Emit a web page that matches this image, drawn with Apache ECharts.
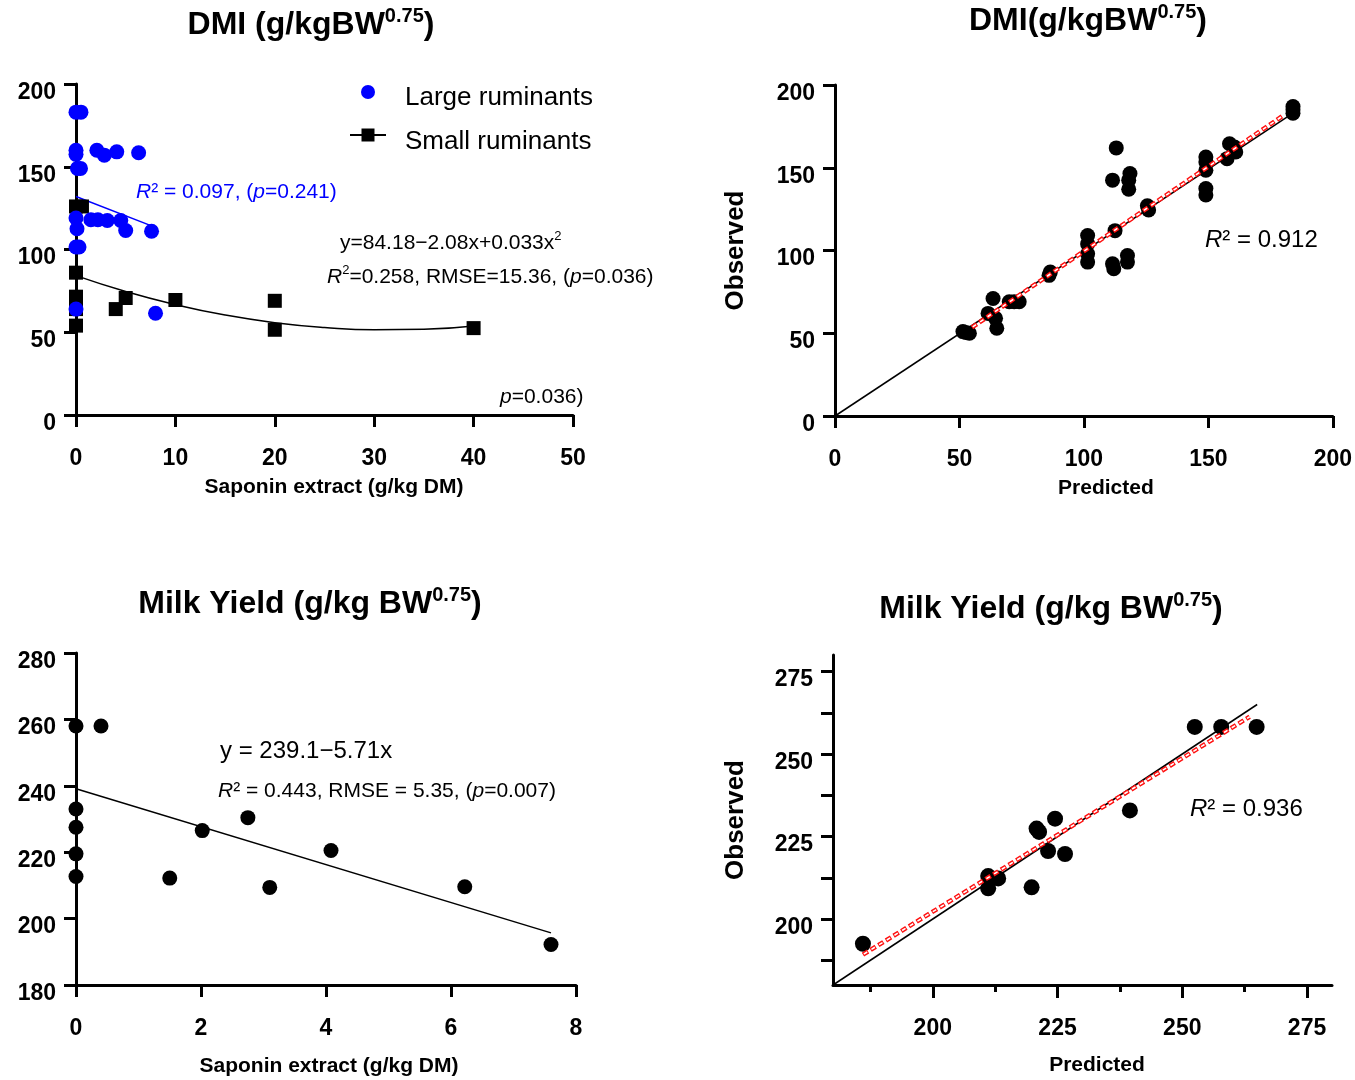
<!DOCTYPE html>
<html><head><meta charset="utf-8">
<script src="https://cdn.jsdelivr.net/npm/echarts@6/dist/echarts.min.js"></script>
<style>html,body{margin:0;padding:0;background:#fff}#c{width:1355px;height:1080px}</style>
</head><body><div id="c"></div>
<script>
const NARROW = "'Liberation Sans Narrow','Liberation Sans',Arial,sans-serif";
const SANS = "'Liberation Sans',Arial,sans-serif";

// ---------- Panel A: DMI vs saponin ----------
const largeRuminants = [[0,183],[0.5,183],[0,160],[0,157.5],[2.1,160],[2.85,157],[4.1,159],[6.3,158.5],
  [0.15,149],[0.45,149],[0,119],[1.5,118],[2.2,118],[3.15,117.5],[4.5,117.5],[5.0,111.5],[7.6,111],
  [0.1,112.5],[0.3,101.5],[0,101.5],[0,64],[8.0,61.5]];
const smallRuminants = [[0,126],[0.6,126],[0,86],[0,71.5],[0,64],[0,54],[4,64],[5,70.7],[10,69.5],
  [20,69],[20,51.5],[40,52.5]];
const largeFit = [[0,132],[7.6,114.3]];
const smallFit = [[0,84.2],[5,74.6],[10,66.7],[15,60.4],[20,55.8],[25,52.9],[30,51.5],[35,51.8],[40,53.8]];

// ---------- Panel B: DMI observed vs predicted ----------
const dmiObsPred = [[51.4,51],[52.5,50.5],[54,50],[63.5,71],[61.5,62],[64.5,59],[65,53],[70,69],[72,69],[74,69],
  [86,85],[86.5,87],[101.5,109],[101.5,104],[101.5,98],[101.5,93],[111.5,92],[112,89],[112.5,112],
  [117.5,97],[117.5,93],[111.5,142.5],[113,162],[118.5,146.5],[118,142.5],[118,137],[125.5,127],[126,124.5],
  [149,156.5],[149,153.5],[149,148.5],[149,137.5],[149,133.5],[157.5,155.5],[158.5,164.5],[160.5,162.5],
  [161,159.5],[184,187],[184,185],[184,183]];
const dmiIdentity = [[0,0],[184,183]];
const dmiRegression = [[55,53.5],[180.5,182]];

// ---------- Panel C: Milk yield vs saponin ----------
const milkSaponin = [[0,258],[0.4,258],[0,233],[0,227.5],[0,219.5],[0,212.7],[1.5,212.2],[2.02,226.5],
  [2.75,230.4],[3.1,209.4],[4.08,220.5],[6.22,209.6],[7.6,192.2]];
const milkFit = [[0,239.1],[7.6,195.7]];

// ---------- Panel D: Milk yield observed vs predicted ----------
const milkObsPred = [[186,192.5],[211.1,213],[213.1,212.3],[211.1,209.3],[219.8,209.6],[220.8,227.4],
  [221.3,226.4],[224.5,230.4],[223.1,220.6],[226.5,219.7],[239.5,232.9],[252.5,258.2],[257.8,258.2],[264.9,258.2]];
const milkIdentity = [[180,180],[265,265]];
const milkRegression = [[186,189.2],[263.5,261.3]];

// tick values
const ticksD_major = [200,225,250,275], ticksD_minor = [187.5,212.5,237.5,262.5];
const ticksD_y = [187.5,200,212.5,225,237.5,250,262.5,275];

const chart = echarts.init(document.getElementById('c'), null, {renderer:'canvas'});

const TICKFONT = 23;
function lblX(extra){ return Object.assign({color:'#000', fontFamily:NARROW, fontWeight:'bold', fontSize:TICKFONT, margin:32}, extra||{}); }
function lblY(extra){ return Object.assign({color:'#000', fontFamily:NARROW, fontWeight:'bold', fontSize:TICKFONT, margin:20,
  verticalAlign:'top', lineHeight:17}, extra||{}); }
const nameStyle = (pad) => ({color:'#000', fontFamily:NARROW, fontWeight:'bold', fontSize:21, padding:[0,0,0,pad]});
const obsStyle = {color:'#000', fontFamily:SANS, fontWeight:'bold', fontSize:26};

function base(extra){
  return Object.assign({
    type:'value', splitLine:{show:false},
    axisLine:{show:true, onZero:false, lineStyle:{color:'#000', width:3}},
    axisTick:{show:true, length:12, lineStyle:{color:'#000', width:3}}
  }, extra);
}

const xAxes = [
  base({gridIndex:0, min:0, max:50, interval:10, axisLabel:lblX(), name:'Saponin extract (g/kg DM)',
    nameLocation:'middle', nameGap:62, nameTextStyle:nameStyle(19)}),
  base({gridIndex:1, min:0, max:200, interval:50, axisLabel:lblX(), name:'Predicted',
    nameLocation:'middle', nameGap:62, nameTextStyle:nameStyle(44)}),
  base({gridIndex:2, min:0, max:8, interval:2, axisLabel:lblX(), name:'Saponin extract (g/kg DM)',
    nameLocation:'middle', nameGap:71, nameTextStyle:nameStyle(6)}),
  base({gridIndex:3, min:180, max:280, name:'Predicted', nameLocation:'middle', nameGap:70, nameTextStyle:nameStyle(29),
    axisTick:{show:true, length:13, customValues:ticksD_major, lineStyle:{color:'#000', width:3}},
    axisLabel:lblX({customValues:ticksD_major})}),
  // minor ticks for panel D x
  {type:'value', gridIndex:3, position:'bottom', min:180, max:280, splitLine:{show:false}, axisLine:{show:false, onZero:false},
    axisLabel:{show:false}, axisTick:{show:true, length:7, customValues:ticksD_minor, lineStyle:{color:'#000', width:3}}}
];
const yAxes = [
  base({gridIndex:0, min:0, max:200, interval:50, axisLabel:lblY()}),
  base({gridIndex:1, min:0, max:200, interval:50, axisLabel:lblY(), name:'Observed', nameLocation:'middle',
    nameGap:86, nameRotate:90, nameTextStyle:obsStyle}),
  base({gridIndex:2, min:180, max:280, interval:20, axisLabel:lblY()}),
  base({gridIndex:3, min:180, max:280, name:'Observed', nameLocation:'middle', nameGap:84, nameRotate:90,
    nameTextStyle:obsStyle,
    axisTick:{show:true, length:12, customValues:ticksD_y, lineStyle:{color:'#000', width:3}},
    axisLabel:lblY({customValues:ticksD_major})})
];

function scatter(xi, data, color, symbol, size){
  return {type:'scatter', xAxisIndex:xi, yAxisIndex:xi, data, symbol, symbolSize:size,
    itemStyle:{color, opacity:1}, silent:true, z:3};
}
function line(xi, data, color, width, smooth){
  return {type:'line', xAxisIndex:xi, yAxisIndex:xi, data, showSymbol:false, smooth:!!smooth,
    lineStyle:{color, width}, silent:true, z:2};
}
function dashed(xi, data){
  return [
    {type:'line', xAxisIndex:xi, yAxisIndex:xi, data, showSymbol:false, silent:true, z:4,
      lineStyle:{color:'#ff1010', width:4.5, type:[6,3]}},
    {type:'line', xAxisIndex:xi, yAxisIndex:xi, data, showSymbol:false, silent:true, z:5,
      lineStyle:{color:'#ffffff', width:1.6, type:[4,5], dashOffset:8}}
  ];
}

const series = [
  scatter(0, smallRuminants, '#000', 'rect', 14),
  scatter(0, largeRuminants, '#0000ff', 'circle', 15),
  line(0, largeFit, '#0000ff', 1.5),
  line(0, smallFit, '#000', 1.5, true),
  line(1, dmiIdentity, '#000', 1.5),
  ...dashed(1, dmiRegression),
  scatter(1, dmiObsPred, '#000', 'circle', 15),
  line(2, milkFit, '#000', 1.5),
  scatter(2, milkSaponin, '#000', 'circle', 15),
  line(3, milkIdentity, '#000', 1.5),
  ...dashed(3, milkRegression),
  scatter(3, milkObsPred, '#000', 'circle', 16)
];

function T(x, y, text, rich, align){
  return {type:'text', x, y, silent:true, z:10,
    style:{text, rich, align:align||'left', verticalAlign:'middle'}};
}
function titleRich(){
  return {
    t:{fontFamily:NARROW, fontWeight:'bold', fontSize:32, fill:'#000', lineHeight:38},
    s:{fontFamily:NARROW, fontWeight:'bold', fontSize:20, fill:'#000', lineHeight:22, verticalAlign:'top'}
  };
}
function annRich(size, color){
  return {
    n:{fontFamily:SANS, fontSize:size, fill:color, lineHeight:size+6},
    i:{fontFamily:SANS, fontSize:size, fill:color, fontStyle:'italic', lineHeight:size+6},
    s:{fontFamily:SANS, fontSize:Math.round(size*0.62), fill:color, lineHeight:Math.round(size*0.62), verticalAlign:'top'}
  };
}

const graphic = [
  T(311, 25, '{t|DMI (g/kgBW}{s|0.75}{t|)}', titleRich(), 'center'),
  T(1088, 21, '{t|DMI(g/kgBW}{s|0.75}{t|)}', titleRich(), 'center'),
  T(310, 604, '{t|Milk Yield (g/kg BW}{s|0.75}{t|)}', titleRich(), 'center'),
  T(1051, 609, '{t|Milk Yield (g/kg BW}{s|0.75}{t|)}', titleRich(), 'center'),
  // legend
  {type:'circle', shape:{cx:368, cy:92, r:7}, style:{fill:'#0000ff'}, silent:true},
  {type:'line', shape:{x1:350, y1:135, x2:386, y2:135}, style:{stroke:'#000', lineWidth:2}, silent:true},
  {type:'rect', shape:{x:361.5, y:128.5, width:13, height:13}, style:{fill:'#000'}, silent:true},
  T(405, 98, '{n|Large ruminants}', annRich(26,'#000')),
  T(405, 142, '{n|Small ruminants}', annRich(26,'#000')),
  // annotations panel A
  T(136, 192, '{i|R}{n|² = 0.097, (}{i|p}{n|=0.241)}', annRich(21,'#0000ff')),
  T(340, 243, '{n|y=84.18−2.08x+0.033x}{s|2}', annRich(21,'#000')),
  T(327, 277, '{i|R}{s|2}{n|=0.258, RMSE=15.36, (}{i|p}{n|=0.036)}', annRich(21,'#000')),
  T(500, 397, '{i|p}{n|=0.036)}', annRich(21,'#000')),
  // panel B
  T(1205, 240, '{i|R}{n|² = 0.912}', annRich(24,'#000')),
  // panel C
  T(220, 751, '{n|y = 239.1−5.71x}', annRich(24,'#000')),
  T(218, 791, '{i|R}{n|² = 0.443, RMSE = 5.35, (}{i|p}{n|=0.007)}', annRich(21,'#000')),
  // panel D
  T(1190, 809, '{i|R}{n|² = 0.936}', annRich(24,'#000'))
];

chart.setOption({
  animation:false,
  backgroundColor:'#fff',
  grid:[
    {left:76, top:84, width:497, height:331},
    {left:835, top:85, width:499, height:331},
    {left:76, top:653, width:500, height:332},
    {left:833, top:655, width:499, height:330}
  ],
  xAxis:xAxes, yAxis:yAxes, series, graphic
});
</script></body></html>
